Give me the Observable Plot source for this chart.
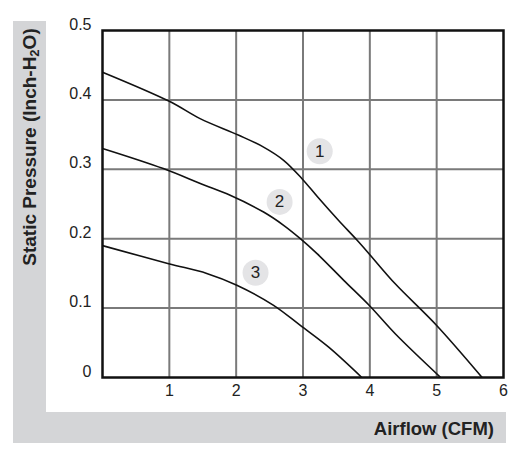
<!DOCTYPE html>
<html><head><meta charset="utf-8">
<script src="https://cdn.jsdelivr.net/npm/d3@7"></script>
<script src="https://cdn.jsdelivr.net/npm/@observablehq/plot@0.6"></script>
<style>
body{margin:0;background:#fff;font-family:"Liberation Sans",Arial,sans-serif;}
#wrap{position:relative;width:524px;height:467px;overflow:hidden;}
.band{position:absolute;background:#d4d5d7;}
#yt{position:absolute;left:30px;top:147px;transform:translate(-50%,-50%) rotate(-90deg);font-weight:bold;font-size:19px;line-height:22px;white-space:nowrap;color:#222;}
#yt sub{font-size:13px;vertical-align:-3px;line-height:0;}
#xt{position:absolute;right:30px;top:419px;font-weight:bold;font-size:18.5px;line-height:20px;white-space:nowrap;color:#222;}
#plot{position:absolute;left:0;top:0;}
#plot svg g[aria-label$="tick label"] text{font-size:16px;}
#plot svg g[aria-label="text"] text{font-size:17px;}
</style>
</head><body>
<div id="wrap">
  <div class="band" style="left:13px;top:21px;width:33px;height:422px;"></div>
  <div class="band" style="left:13px;top:412px;width:493px;height:31px;"></div>
  <div id="yt">Static Pressure (Inch-H<sub>2</sub>O)</div>
  <div id="xt">Airflow (CFM)</div>
  <div id="plot"></div>
</div>
<script>
const xTicks = [1, 2, 3, 4, 5, 6];
const yTicks = [0, 0.1, 0.2, 0.3, 0.4, 0.5];
const yTickLabels = ["0", "0.1", "0.2", "0.3", "0.4", "0.5"];

const curve1X = [0, 1, 1.46, 2.04, 2.41, 2.71, 2.985, 3.22, 3.53, 3.81, 4, 4.38, 5, 5.68];
const curve1Y = [0.44, 0.398, 0.373, 0.349, 0.332, 0.313, 0.2865, 0.26, 0.2265, 0.1977, 0.177, 0.135, 0.075, 0];
const curve2X = [0, 0.91, 1.5, 1.91, 2.41, 2.71, 2.96, 3.21, 3.61, 4, 4.38, 5.06];
const curve2Y = [0.33, 0.301, 0.278, 0.2625, 0.2384, 0.2193, 0.2001, 0.1785, 0.14, 0.103, 0.063, 0];
const curve3X = [0, 0.99, 1.56, 2.01, 2.56, 2.96, 3.38, 3.88];
const curve3Y = [0.19, 0.164, 0.15, 0.133, 0.104, 0.075, 0.044, 0];

const curveNames = ["1", "2", "3"];
const labelX = [3.25, 2.65, 2.29];
const labelY = [0.326, 0.253, 0.151];

const lineData = [];
[[curve1X, curve1Y], [curve2X, curve2Y], [curve3X, curve3Y]].forEach(([xs, ys], i) => {
  xs.forEach((x, j) => lineData.push({curve: curveNames[i], x, y: ys[j]}));
});
const labelData = curveNames.map((c, i) => ({c, x: labelX[i], y: labelY[i]}));

const chart = Plot.plot({
  width: 524,
  height: 467,
  marginLeft: 102,
  marginRight: 21,
  marginTop: 30,
  marginBottom: 90,
  style: {background: "transparent", fontFamily: "'Liberation Sans', Arial, sans-serif", fontSize: "16px", color: "#222"},
  x: {domain: [0, 6]},
  y: {domain: [0, 0.5]},
  marks: [
    Plot.gridX(xTicks.slice(0, 5), {stroke: "#7a7a7a", strokeOpacity: 1, strokeWidth: 2}),
    Plot.gridY(yTicks.slice(1, 5), {stroke: "#7a7a7a", strokeOpacity: 1, strokeWidth: 2}),
    Plot.line(lineData, {x: "x", y: "y", z: "curve", stroke: "#111", strokeWidth: 1.6, curve: "catmull-rom", clip: true}),
    Plot.frame({stroke: "#111", strokeWidth: 2.5}),
    Plot.dot(labelData, {x: "x", y: "y", r: 13, fill: "#e4e4e6", stroke: "none"}),
    Plot.text(labelData, {x: "x", y: "y", text: "c", fontSize: 17, fill: "#222"}),
    Plot.axisX(xTicks, {tickSize: 0, tickPadding: 7, label: null, fontSize: 16}),
    Plot.axisY(yTicks, {tickSize: 0, tickPadding: 11, dy: -6, label: null, fontSize: 16, tickFormat: (d) => yTickLabels[yTicks.indexOf(d)]})
  ]
});
document.getElementById("plot").appendChild(chart);
</script>
</body></html>
